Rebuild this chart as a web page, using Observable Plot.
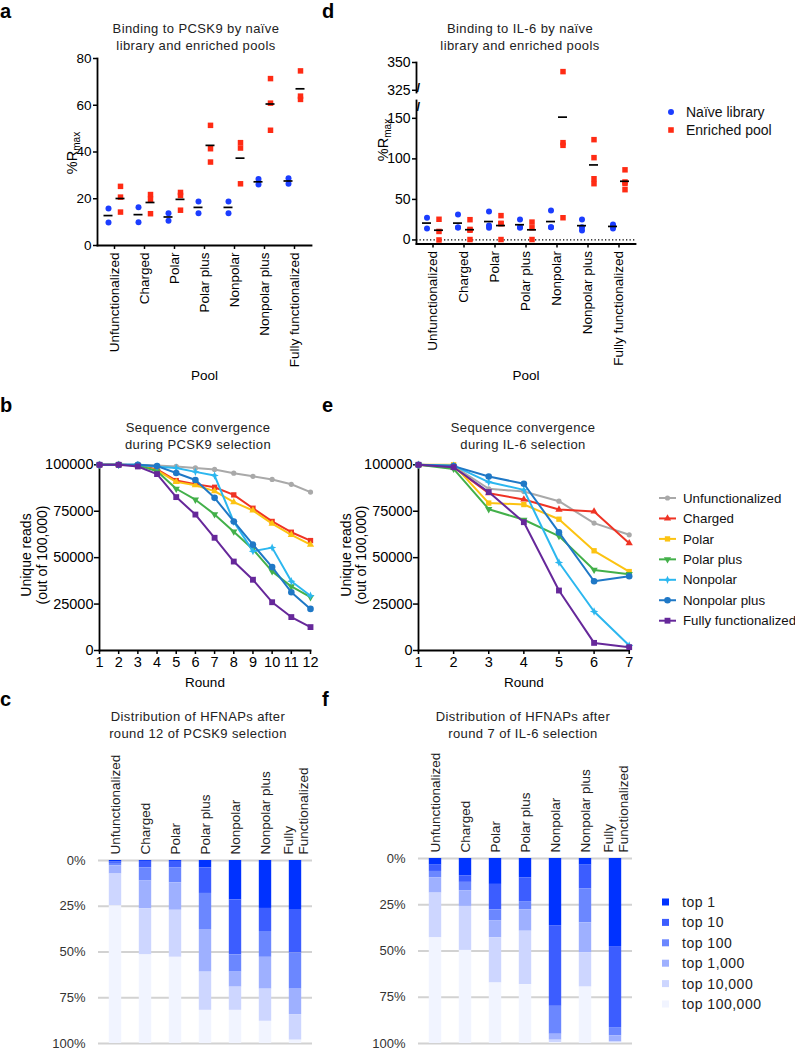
<!DOCTYPE html>
<html>
<head>
<meta charset="utf-8">
<script src="https://cdn.jsdelivr.net/npm/d3@7"></script>
<script src="https://cdn.jsdelivr.net/npm/@observablehq/plot@0.6"></script>
<style>
  body { margin: 0; background: #fff; font-family: "Liberation Sans", Arial, Helvetica, sans-serif; }
  #root { position: relative; width: 795px; height: 1050px; overflow: hidden; background: #fff; }
  .letter { position: absolute; font-weight: bold; font-size: 20px; line-height: 20px; color: #000; }
  .title { position: absolute; width: 320px; font-size: 13px; letter-spacing: 0.4px; line-height: 17px; color: #222; text-align: center; white-space: nowrap; }
</style>
</head>
<body>
<div id="root"></div>
<script>
const FONT = "'Liberation Sans', Arial, Helvetica, sans-serif";

// ---------- categories ----------
const pools = ["Unfunctionalized", "Charged", "Polar", "Polar plus", "Nonpolar", "Nonpolar plus", "Fully functionalized"];
const distLabels = ["Unfunctionalized", "Charged", "Polar", "Polar plus", "Nonpolar", "Nonpolar plus", "Fully\nFunctionalized"];
const groups = ["Naïve library", "Enriched pool"];

// ---------- panel a: PCSK9 binding (%Rmax) ----------
const pcsk9Naive = [[15.8, 9.8], [16.4, 10.0], [10.6, 13.8], [18.8, 13.8], [18.8, 13.8], [26.1, 28.4], [26.4, 28.8]];
const pcsk9Enriched = [[25.3, 20.7, 14.3], [21.8, 19.8, 13.6], [22.7, 21.4, 15.1], [51.4, 41.4, 35.7], [44.0, 41.7, 26.4], [71.4, 60.9, 49.3], [74.7, 62.5, 63.9]];
const pcsk9BindTicks = [0, 20, 40, 60, 80];

// ---------- panel d: IL-6 binding (%Rmax) ----------
const il6Naive = [[27.4, 14.2], [31.5, 15.4, 15.4], [35.2, 15.0, 17.9], [25.3, 15.0, 16.0], [36.4, 15.8, 15.8], [25.3, 11.7, 15.8], [19.0, 14.0, 17.0]];
const il6Enriched = [[25.5, 10.5, 0], [25.0, 13.0, 12.0, 0.5], [30.0, 20.5, 20.0, 0.5], [22.0, 15.0, 0.5], [341.8, 120.0, 116.7, 27.4], [123.7, 101.5, 69.4, 75.5], [86.5, 71.5, 69.5, 62.0]];
const il6LowTicks = [0, 50, 100, 150];
const il6HighTicks = [325, 350];

// ---------- panel b: PCSK9 convergence ----------
const pcsk9Rounds = [1, 2, 3, 4, 5, 6, 7, 8, 9, 10, 11, 12];
const pcsk9Unfunctionalized = [100000, 100000, 100000, 99600, 99100, 98300, 97500, 95500, 93800, 92100, 89500, 85300];
const pcsk9Charged = [100000, 100000, 99700, 97600, 91500, 89600, 87900, 83800, 76600, 69500, 63700, 59200];
const pcsk9Polar = [100000, 100000, 99700, 97000, 90800, 89000, 85800, 79900, 75400, 68300, 62300, 57000];
const pcsk9PolarPlus = [100000, 100000, 99800, 96500, 87100, 81200, 73300, 64000, 54500, 42600, 34500, 28700];
const pcsk9Nonpolar = [100000, 100000, 100000, 99000, 98300, 96200, 94200, 69300, 53500, 55400, 37300, 29500];
const pcsk9NonpolarPlus = [100000, 100000, 100000, 99300, 95600, 91800, 82200, 69500, 57000, 44900, 31400, 22400];
const pcsk9Fully = [100000, 100000, 99100, 95000, 82600, 73200, 60700, 47900, 38100, 26000, 18000, 12600];

// ---------- panel e: IL-6 convergence ----------
const il6Rounds = [1, 2, 3, 4, 5, 6, 7];
const il6Unfunctionalized = [100000, 99300, 87100, 85600, 80400, 68600, 62300];
const il6Charged = [100000, 98700, 84700, 81300, 75900, 74900, 57800];
const il6Polar = [100000, 100000, 79400, 78600, 70700, 53700, 42500];
const il6PolarPlus = [100000, 97800, 76100, 70400, 61600, 43400, 41100];
const il6Nonpolar = [100000, 99600, 90700, 86500, 47400, 21000, 2700];
const il6NonpolarPlus = [100000, 99300, 93700, 89800, 63600, 37300, 40000];
const il6Fully = [100000, 98700, 85300, 69100, 32300, 4100, 1800];
const readTicks = [0, 25000, 50000, 75000, 100000];

// ---------- panels c, f: cumulative % of reads (top 1 ... top 100,000) ----------
const hfnapLevels = ["top 1", "top 10", "top 100", "top 1,000", "top 10,000", "top 100,000"];
const pcsk9Distribution = [
  [0.7, 1.6, 2.9, 7.4, 24.8, 100],
  [0.5, 4.0, 11.2, 26.3, 51.6, 100],
  [0.5, 4.1, 12.2, 27.2, 52.9, 100],
  [4.0, 18.0, 37.7, 61.0, 81.9, 100],
  [21.5, 51.6, 61.0, 69.2, 81.9, 100],
  [26.2, 38.8, 52.9, 70.3, 87.9, 100],
  [27.2, 50.5, 70.3, 84.2, 98.2, 100]
];
const il6Distribution = [
  [3.6, 7.0, 10.4, 18.7, 42.9, 100],
  [9.3, 12.9, 17.4, 25.9, 49.7, 100],
  [14.0, 27.8, 33.6, 42.9, 67.3, 100],
  [10.4, 23.3, 27.8, 39.3, 68.2, 100],
  [36.3, 79.9, 95.0, 98.2, 99.5, 100],
  [3.6, 16.5, 34.8, 51.0, 69.5, 100],
  [47.6, 91.4, 95.9, 99.1, 99.7, 100]
];
const distTicks = [0, 25, 50, 75, 100];

// ---------- styles ----------
const BLUE = "#1b3dff", RED = "#ff2b14";
const seriesColors = ["#a9a9a9", "#ef3324", "#fcc312", "#43b04a", "#2cb7ef", "#1f78c6", "#66289a"];
const levelColors = ["#0032ff", "#3c5dff", "#6b87ff", "#9eb0ff", "#cdd6ff", "#f1f4ff"];

const star4 = { draw(ctx, size) { const r = Math.sqrt(size) * 0.78, i = r * 0.3;
  ctx.moveTo(0, -r); ctx.lineTo(i, -i); ctx.lineTo(r, 0); ctx.lineTo(i, i); ctx.lineTo(0, r); ctx.lineTo(-i, i); ctx.lineTo(-r, 0); ctx.lineTo(-i, -i); ctx.closePath(); } };
const triDown = { draw(ctx, size) { const s3 = Math.sqrt(3); const y = -Math.sqrt(size / (s3 * 3));
  ctx.moveTo(0, -y * 2); ctx.lineTo(-s3 * y, y); ctx.lineTo(s3 * y, y); ctx.closePath(); } };
const pcsk9Symbols = [d3.symbolCircle, d3.symbolSquare, d3.symbolTriangle, triDown, star4, d3.symbolCircle, d3.symbolSquare];
const il6Symbols = [d3.symbolCircle, d3.symbolTriangle, d3.symbolSquare, triDown, star4, d3.symbolCircle, d3.symbolSquare];
const pcsk9Radii = [2.6, 3.0, 2.7, 2.7, 3.0, 3.3, 3.3];
const il6Radii = [2.6, 2.7, 3.0, 2.7, 3.0, 3.3, 3.3];

const root = document.getElementById("root");
function put(el, left, top) { el.style.position = "absolute"; el.style.left = left + "px"; el.style.top = top + "px"; root.appendChild(el); return el; }
function div(cls, html, left, top) { const d = document.createElement("div"); d.className = cls; d.innerHTML = html; return put(d, left, top); }
const baseStyle = { background: "transparent", overflow: "visible", fontFamily: FONT, color: "#000" };

function toLong(naive, enriched) {
  const rows = [];
  pools.forEach((p, i) => {
    naive[i].forEach(v => rows.push({ pool: p, group: groups[0], v }));
    enriched[i].forEach(v => rows.push({ pool: p, group: groups[1], v }));
  });
  return rows;
}
function scatterMarks(rows, keep) {
  const nv = rows.filter(d => d.group === groups[0] && keep(d.v));
  const en = rows.filter(d => d.group === groups[1] && keep(d.v));
  return [
    Plot.dot(nv, { x: "pool", y: "v", dx: -6, r: 3, fill: BLUE, symbol: "circle" }),
    Plot.dot(en, { x: "pool", y: "v", dx: 6, r: 3.1, fill: RED, symbol: "square" })
  ];
}
function meanMarks(rows, inset) {
  return groups.map((g, k) => Plot.tickY(rows.filter(d => d.group === g),
    Plot.groupX({ y: "mean" }, { x: "pool", y: "v", dx: k ? 6 : -6, insetLeft: inset, insetRight: inset, stroke: "#000", strokeWidth: 1.7 })));
}
function rmaxLabel(svg, x, y) {
  const t = d3.select(svg).append("text").attr("transform", `translate(${x},${y}) rotate(-90)`)
    .attr("text-anchor", "middle").attr("font-family", FONT).attr("font-size", 14.5).attr("fill", "#000");
  t.append("tspan").text("%R");
  t.append("tspan").attr("font-size", 10).attr("dy", 3).text("max");
}
function readsLabel(svg, x1, x2, y) {
  [["Unique reads", x1], ["(out of 100,000)", x2]].forEach(([s, x]) => {
    d3.select(svg).append("text").attr("transform", `translate(${x},${y}) rotate(-90)`)
      .attr("text-anchor", "middle").attr("font-family", FONT).attr("font-size", 14).attr("fill", "#000").text(s);
  });
}

// ================= panel a =================
const aRows = toLong(pcsk9Naive, pcsk9Enriched);
const svgA = Plot.plot({
  width: 320, height: 345, marginLeft: 97, marginRight: 9, marginTop: 18, marginBottom: 140,
  style: baseStyle,
  x: { type: "band", domain: pools, padding: 0, axis: null },
  y: { domain: [0, 80], axis: null },
  marks: [
    Plot.axisY({ ticks: pcsk9BindTicks, tickSize: 4, tickPadding: 2, fontSize: 13.5, strokeWidth: 1.5, label: null }),
    Plot.axisX({ tickRotate: -90, tickSize: 4, tickPadding: 3, fontSize: 13.5, strokeWidth: 1.5, label: null }),
    Plot.frame({ anchor: "left", strokeWidth: 1.8 }),
    Plot.frame({ anchor: "bottom", strokeWidth: 1.8 }),
    ...scatterMarks(aRows, () => true),
    ...meanMarks(aRows, 10.5),
    Plot.text(["Pool"], { text: d => d, frameAnchor: "bottom", dy: 134, fontSize: 13.5 })
  ]
});
rmaxLabel(svgA, 77, 113);
put(svgA, 0, 40);

// ================= panel d (broken axis) =================
const dRows = toLong(il6Naive, il6Enriched);
const svgDTop = Plot.plot({
  width: 320, height: 42, marginLeft: 96, marginRight: 5, marginTop: 12, marginBottom: 0,
  style: baseStyle,
  x: { type: "band", domain: pools, padding: 0, axis: null },
  y: { domain: [323, 350], axis: null },
  marks: [
    Plot.axisY({ ticks: il6HighTicks, tickSize: 4, tickPadding: 2, fontSize: 14, strokeWidth: 1.5, label: null }),
    Plot.frame({ anchor: "left", strokeWidth: 1.8 }),
    Plot.text(["/"], { text: d => d, frameAnchor: "bottom-left", dy: -1, fontSize: 13, fontWeight: "bold" }),
    ...scatterMarks(dRows, v => v >= 300)
  ]
});
put(svgDTop, 320, 50);

const svgDBot = Plot.plot({
  width: 320, height: 293.5, marginLeft: 96, marginRight: 5, marginTop: 10, marginBottom: 140,
  style: baseStyle,
  x: { type: "band", domain: pools, padding: 0, axis: null },
  y: { domain: [-5, 172], axis: null },
  marks: [
    Plot.axisY({ ticks: il6LowTicks, tickSize: 4, tickPadding: 2, fontSize: 14, strokeWidth: 1.5, label: null }),
    Plot.axisX({ tickRotate: -90, tickSize: 4, tickPadding: 3, fontSize: 13.5, strokeWidth: 1.5, label: null }),
    Plot.ruleY([0], { stroke: "#000", strokeWidth: 1.3, strokeDasharray: "1.3,2.2" }),
    Plot.frame({ anchor: "left", strokeWidth: 1.8 }),
    Plot.frame({ anchor: "bottom", strokeWidth: 1.8 }),
    Plot.text(["/"], { text: d => d, frameAnchor: "top-left", dy: 1, fontSize: 13, fontWeight: "bold" }),
    ...scatterMarks(dRows, v => v < 300),
    ...meanMarks(dRows, 11),
    Plot.text(["Pool"], { text: d => d, frameAnchor: "bottom", dy: 135.5, fontSize: 13.5 })
  ]
});
rmaxLabel(svgDBot, 68, 50);
put(svgDBot, 320, 90);

// legend d
(function () {
  const svg = d3.create("svg").attr("width", 130).attr("height", 40);
  groups.forEach((g, i) => {
    const y = 10 + i * 18;
    svg.append("path").attr("transform", `translate(9,${y})`)
      .attr("d", d3.symbol().type(i ? d3.symbolSquare : d3.symbolCircle).size(i ? 31 : 28)()).attr("fill", i ? RED : BLUE);
    svg.append("text").attr("x", 24).attr("y", y).attr("dy", "0.35em").attr("font-family", FONT)
      .attr("font-size", 14).attr("fill", "#111").text(g);
  });
  put(svg.node(), 662, 102);
})();

// ================= panels b & e =================
function convergencePlot(rounds, series, symbols, radii, opts) {
  const marks = [
    Plot.axisX({ ticks: rounds, tickFormat: d3.format("d"), tickSize: 4, tickPadding: 2, fontSize: 14.5, strokeWidth: 1.5, label: null }),
    Plot.axisY({ ticks: readTicks, tickFormat: d3.format("d"), tickSize: 5, tickPadding: 1, fontSize: 14.5, strokeWidth: 1.5, label: null }),
    Plot.frame({ anchor: "left", strokeWidth: 1.8 }),
    Plot.frame({ anchor: "bottom", strokeWidth: 1.8 })
  ];
  series.forEach((vals, i) => {
    const rows = rounds.map((r, j) => ({ r, v: vals[j] }));
    marks.push(Plot.line(rows, { x: "r", y: "v", stroke: seriesColors[i], strokeWidth: 2 }));
    marks.push(Plot.dot(rows, { x: "r", y: "v", fill: seriesColors[i], symbol: symbols[i], r: radii[i] }));
  });
  marks.push(Plot.text(["Round"], { text: d => d, frameAnchor: "bottom", dy: 36, fontSize: 13.5 }));
  return Plot.plot({
    width: 320, height: 260, marginLeft: opts.ml, marginRight: opts.mr, marginTop: 24.3, marginBottom: 50,
    style: baseStyle,
    x: { domain: [rounds[0], rounds[rounds.length - 1]], axis: null },
    y: { domain: [0, 100000], axis: null },
    marks
  });
}
const svgB = convergencePlot(pcsk9Rounds,
  [pcsk9Unfunctionalized, pcsk9Charged, pcsk9Polar, pcsk9PolarPlus, pcsk9Nonpolar, pcsk9NonpolarPlus, pcsk9Fully],
  pcsk9Symbols, pcsk9Radii, { ml: 99, mr: 10 });
readsLabel(svgB, 31, 46.5, 115);
put(svgB, 0, 440);

const svgE = convergencePlot(il6Rounds,
  [il6Unfunctionalized, il6Charged, il6Polar, il6PolarPlus, il6Nonpolar, il6NonpolarPlus, il6Fully],
  il6Symbols, il6Radii, { ml: 98, mr: 11.3 });
readsLabel(svgE, 30.5, 46, 115);
put(svgE, 320, 440);

// legend e
(function () {
  const svg = d3.create("svg").attr("width", 145).attr("height", 150);
  pools.forEach((p, i) => {
    const y = 13 + i * 20.45;
    svg.append("line").attr("x1", 9).attr("x2", 26).attr("y1", y).attr("y2", y).attr("stroke", seriesColors[i]).attr("stroke-width", 2);
    svg.append("path").attr("transform", `translate(17.5,${y})`)
      .attr("d", d3.symbol().type(il6Symbols[i]).size(Math.PI * il6Radii[i] * il6Radii[i])()).attr("fill", seriesColors[i]);
    svg.append("text").attr("x", 33).attr("y", y).attr("dy", "0.35em").attr("font-family", FONT)
      .attr("font-size", 13.3).attr("fill", "#111").text(p);
  });
  put(svg.node(), 650, 485);
})();

// ================= panels c & f =================
function distRows(cums) {
  const rows = [];
  cums.forEach((c, i) => {
    let prev = 0;
    c.forEach((v, k) => { rows.push({ pool: distLabels[i], level: hfnapLevels[k], y1: prev, y2: v }); prev = v; });
  });
  return rows;
}
function distPlot(cums, width, height, mr) {
  return Plot.plot({
    width, height, marginLeft: 98, marginRight: mr, marginTop: 115, marginBottom: 7,
    style: baseStyle,
    x: { type: "band", domain: distLabels, padding: 0, axis: null },
    y: { domain: [0, 100], reverse: true, axis: null },
    color: { domain: hfnapLevels, range: levelColors },
    marks: [
      Plot.ruleY(distTicks, { stroke: "#d2d2d2", strokeWidth: 2 }),
      Plot.barY(distRows(cums), { x: "pool", y1: "y1", y2: "y2", fill: "level", insetLeft: 8.8, insetRight: 8.8 }),
      Plot.axisY({ ticks: distTicks, tickFormat: d => d + "%", tickSize: 0, tickPadding: 13, fontSize: 13, fill: "#333", label: null }),
      Plot.axisX({ anchor: "top", tickRotate: -90, tickSize: 0, tickPadding: 6, fontSize: 13.5, fill: "#222", label: null, lineHeight: 1.1 })
    ]
  });
}
put(distPlot(pcsk9Distribution, 320, 305, 8), 0, 745);
put(distPlot(il6Distribution, 315, 307, 3), 320, 743);

// legend f
(function () {
  const svg = d3.create("svg").attr("width", 140).attr("height", 130);
  hfnapLevels.forEach((l, i) => {
    const y = 10 + i * 20.4;
    svg.append("rect").attr("x", 4).attr("y", y - 3.5).attr("width", 7).attr("height", 7).attr("fill", levelColors[i]);
    svg.append("text").attr("x", 24).attr("y", y).attr("dy", "0.35em").attr("font-family", FONT)
      .attr("font-size", 14).attr("letter-spacing", 0.5).attr("fill", "#222").text(l);
  });
  put(svg.node(), 658, 892);
})();

// ================= titles & panel letters =================
div("title", "Binding to PCSK9 by naïve<br>library and enriched pools", 196 - 160, 19.5);
div("title", "Binding to IL-6 by naïve<br>library and enriched pools", 520 - 160, 19.5);
div("title", "Sequence convergence<br>during PCSK9 selection", 198 - 160, 418.5);
div("title", "Sequence convergence<br>during IL-6 selection", 523 - 160, 418.5);
div("title", "Distribution of HFNAPs after<br>round 12 of PCSK9 selection", 198 - 160, 708);
div("title", "Distribution of HFNAPs after<br>round 7 of IL-6 selection", 523 - 160, 708);
[["a", 0, 1], ["d", 322, 1], ["b", 0, 395], ["e", 322, 395], ["c", 0, 689], ["f", 322, 689]]
  .forEach(([t, x, y]) => div("letter", t, x, y));
</script>
</body>
</html>
